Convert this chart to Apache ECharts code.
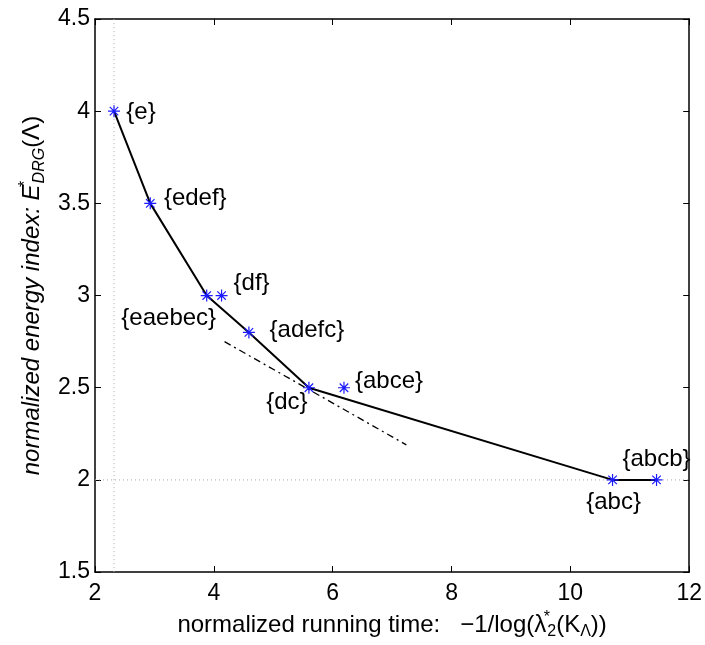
<!DOCTYPE html>
<html><head><meta charset="utf-8">
<script src="https://cdn.jsdelivr.net/npm/echarts@6/dist/echarts.min.js"></script>
<style>html,body{margin:0;padding:0;background:#fff}#c{width:705px;height:645px}</style>
</head><body><div id="c"></div><script>
// ---- data ----
const pointNames = ['{e}','{edef}','{eaebec}','{df}','{adefc}','{dc}','{abce}','{abc}','{abcb}'];
const pointX = [2.32, 2.93, 3.88, 4.13, 4.59, 5.60, 6.19, 10.71, 11.45];
const pointY = [4.0, 3.5, 3.0, 3.0, 2.8, 2.5, 2.5, 2.0, 2.0];
const curveX = [2.32, 2.93, 3.88, 4.59, 5.60, 10.71, 11.45];
const curveY = [4.0, 3.5, 3.0, 2.8, 2.5, 2.0, 2.0];
const tangentX = [4.18, 7.24];
const tangentY = [2.75, 2.19];
const refLineX = 2.32;
const refLineY = 2.0;
const xRange = [2, 12];
const yRange = [1.5, 4.5];

// ---- label placement (pixels, relative to marker) ----
const labelOffsets = [[27,1],[45,-5],[-38,23],[30,-12],[58,-2],[-22,15],[45,-6],[1,22],[0,-21]];

const FONT = 'Liberation Sans, Arial, Helvetica, sans-serif';
const zip = (a, b) => a.map((v, i) => [v, b[i]]);
const STAR = 'path://M0,-10L0,10M-10,0L10,0M-7.07,-7.07L7.07,7.07M-7.07,7.07L7.07,-7.07';

const chart = echarts.init(document.getElementById('c'), null, {renderer: 'canvas'});
const axisCommon = {
  type: 'value',
  axisLine: {show: true, onZero: false, lineStyle: {color: '#000', width: 1.5}},
  axisTick: {show: true, inside: true, length: 6, lineStyle: {color: '#000', width: 1}},
  splitLine: {show: false}
};
const option = {
  animation: false,
  backgroundColor: '#fff',
  grid: {left: 95, right: 15, top: 19, bottom: 69, containLabel: false},
  xAxis: [
    Object.assign({}, axisCommon, {
      min: xRange[0], max: xRange[1], interval: 2, position: 'bottom',
      axisLabel: {color: '#000', fontSize: 23, fontFamily: FONT, margin: 10},
      name: '{t|normalized running time:   \u22121/log(\u03bb}{sup|*}{sub|2}{t|(K}{sub|\u039b}{t|))}',
      nameLocation: 'middle', nameGap: 21,
      nameTextStyle: {
        color: '#000', fontFamily: FONT, fontSize: 24,
        rich: {
          t: {fontSize: 24, fontFamily: FONT, color: '#000', lineHeight: 30, verticalAlign: 'middle'},
          sup: {fontSize: 16, fontFamily: FONT, color: '#000', lineHeight: 12, verticalAlign: 'top', width: 1},
          sub: {fontSize: 16, fontFamily: FONT, color: '#000', lineHeight: 12, verticalAlign: 'bottom'}
        }
      }
    }),
    Object.assign({}, axisCommon, {
      min: xRange[0], max: xRange[1], interval: 2, position: 'top',
      axisLabel: {show: false}
    })
  ],
  yAxis: [
    Object.assign({}, axisCommon, {
      min: yRange[0], max: yRange[1], interval: 0.5, position: 'left',
      axisLabel: {color: '#000', fontSize: 23, fontFamily: FONT, margin: 5,
        formatter: v => String(v)},
      name: '{i|normalized energy index: E}{sup|*}{isub|DRG}{t|(\u039b)}',
      nameLocation: 'middle', nameGap: 39, nameRotate: 90,
      nameTextStyle: {
        color: '#000', fontFamily: FONT, fontSize: 24,
        rich: {
          i: {fontSize: 24, fontStyle: 'italic', fontFamily: FONT, color: '#000', lineHeight: 30, verticalAlign: 'middle'},
          t: {fontSize: 24, fontFamily: FONT, color: '#000', lineHeight: 30, verticalAlign: 'middle'},
          sup: {fontSize: 16, fontFamily: FONT, color: '#000', lineHeight: 12, verticalAlign: 'top', width: 1},
          isub: {fontSize: 16, fontStyle: 'italic', fontFamily: FONT, color: '#000', lineHeight: 12, verticalAlign: 'bottom'}
        }
      }
    }),
    Object.assign({}, axisCommon, {
      min: yRange[0], max: yRange[1], interval: 0.5, position: 'right',
      axisLabel: {show: false}
    })
  ],
  series: [
    {
      type: 'line', silent: true, symbol: 'none',
      data: [[refLineX, yRange[0]], [refLineX, yRange[1]]],
      lineStyle: {color: '#aaa', width: 1, type: [1, 3]}, z: 1
    },
    {
      type: 'line', silent: true, symbol: 'none',
      data: [[xRange[0], refLineY], [xRange[1], refLineY]],
      lineStyle: {color: '#aaa', width: 1, type: [1, 3]}, z: 1
    },
    {
      type: 'line', silent: true, symbol: 'none',
      data: zip(tangentX, tangentY),
      lineStyle: {color: '#000', width: 1.3, type: [7, 4, 2, 4]}, z: 2
    },
    {
      type: 'line', silent: true, symbol: 'none',
      data: zip(curveX, curveY),
      lineStyle: {color: '#000', width: 2}, z: 3
    },
    {
      type: 'scatter', silent: true, symbol: STAR, symbolSize: 12, z: 4,
      itemStyle: {color: 'none', borderColor: '#1a1aff', borderWidth: 1.2, opacity: 1},
      data: pointX.map((x, i) => ({
        value: [x, pointY[i]],
        label: {show: true, position: 'inside', offset: labelOffsets[i],
          formatter: pointNames[i], color: '#000', fontSize: 24, fontFamily: FONT,
          align: 'center', verticalAlign: 'middle'}
      }))
    }
  ]
};
chart.setOption(option);
</script></body></html>
